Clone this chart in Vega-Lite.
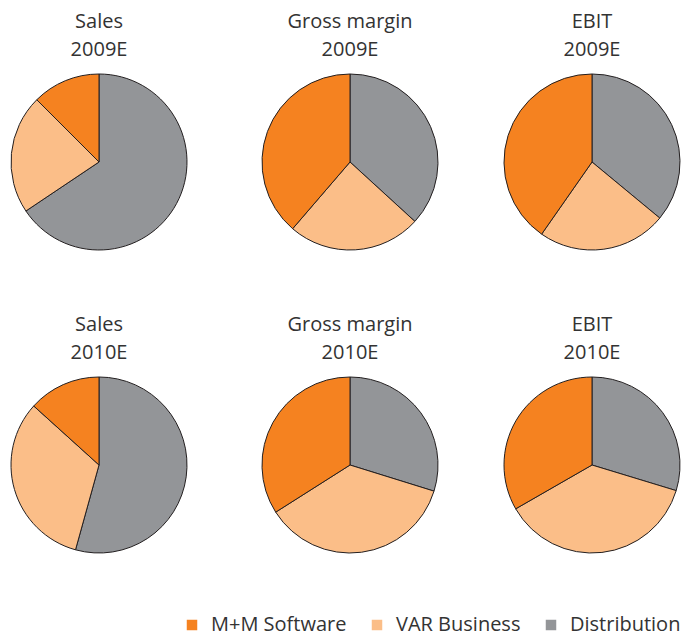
{
  "$schema": "https://vega.github.io/schema/vega-lite/v6.json",
  "padding": {"top": 12, "left": 0, "right": 0, "bottom": 0},
  "background": "white",
  "data": {"values": [
    {"chart": "Sales 2009E", "segment": "Distribution", "k": 1, "value": 65.6},
    {"chart": "Sales 2009E", "segment": "VAR Business", "k": 2, "value": 21.9},
    {"chart": "Sales 2009E", "segment": "M+M Software", "k": 3, "value": 12.5},
    {"chart": "Gross margin 2009E", "segment": "Distribution", "k": 1, "value": 36.8},
    {"chart": "Gross margin 2009E", "segment": "VAR Business", "k": 2, "value": 24.5},
    {"chart": "Gross margin 2009E", "segment": "M+M Software", "k": 3, "value": 38.7},
    {"chart": "EBIT 2009E", "segment": "Distribution", "k": 1, "value": 36.0},
    {"chart": "EBIT 2009E", "segment": "VAR Business", "k": 2, "value": 23.7},
    {"chart": "EBIT 2009E", "segment": "M+M Software", "k": 3, "value": 40.3},
    {"chart": "Sales 2010E", "segment": "Distribution", "k": 1, "value": 54.3},
    {"chart": "Sales 2010E", "segment": "VAR Business", "k": 2, "value": 32.4},
    {"chart": "Sales 2010E", "segment": "M+M Software", "k": 3, "value": 13.3},
    {"chart": "Gross margin 2010E", "segment": "Distribution", "k": 1, "value": 29.8},
    {"chart": "Gross margin 2010E", "segment": "VAR Business", "k": 2, "value": 36.2},
    {"chart": "Gross margin 2010E", "segment": "M+M Software", "k": 3, "value": 34.0},
    {"chart": "EBIT 2010E", "segment": "Distribution", "k": 1, "value": 29.7},
    {"chart": "EBIT 2010E", "segment": "VAR Business", "k": 2, "value": 37.0},
    {"chart": "EBIT 2010E", "segment": "M+M Software", "k": 3, "value": 33.3}
  ]},
  "config": {
    "view": {"stroke": null},
    "font": "Open Sans",
    "concat": {"spacing": 0},
    "title": {"fontSize": 20, "fontWeight": "normal", "color": "#333333", "lineHeight": 28, "offset": 12, "anchor": "middle"},
    "arc": {"stroke": "#231f20", "strokeWidth": 1, "outerRadius": 88}
  },
  "spacing": 63,
  "resolve": {"scale": {"color": "shared"}},
  "vconcat": [
    {"hconcat": [
      {"width": 198, "height": 176, "title": {"text": ["Sales", "2009E"]},
       "transform": [{"filter": "datum.chart == 'Sales 2009E'"}],
       "mark": {"type": "arc"},
       "encoding": {"theta": {"field": "value", "type": "quantitative", "stack": true},
         "order": {"field": "k", "type": "quantitative"},
         "color": {"field": "segment", "type": "nominal",
           "scale": {"domain": ["M+M Software", "VAR Business", "Distribution"], "range": ["#F58220", "#FBBE88", "#939598"]},
           "legend": {"orient": "none", "legendX": 182, "legendY": 541, "direction": "horizontal", "title": null,
             "symbolType": "square", "symbolSize": 110, "symbolStrokeWidth": 0, "symbolStrokeColor": "transparent", "symbolOpacity": 1,
             "labelFontSize": 20, "labelColor": "#333333", "labelFont": "Open Sans", "labelOffset": 9, "columnPadding": 20, "labelLimit": 300,
             "encode": {"symbols": {"update": {"stroke": {"value": "transparent"}, "strokeWidth": {"value": 0}}}}}}}},
      {"width": 304, "height": 176, "title": {"text": ["Gross margin", "2009E"]},
       "transform": [{"filter": "datum.chart == 'Gross margin 2009E'"}],
       "mark": {"type": "arc"},
       "encoding": {"theta": {"field": "value", "type": "quantitative", "stack": true},
         "order": {"field": "k", "type": "quantitative"},
         "color": {"field": "segment", "type": "nominal"}}},
      {"width": 178, "height": 176, "title": {"text": ["EBIT", "2009E"]},
       "transform": [{"filter": "datum.chart == 'EBIT 2009E'"}],
       "mark": {"type": "arc"},
       "encoding": {"theta": {"field": "value", "type": "quantitative", "stack": true},
         "order": {"field": "k", "type": "quantitative"},
         "color": {"field": "segment", "type": "nominal"}}}
    ]},
    {"hconcat": [
      {"width": 198, "height": 176, "title": {"text": ["Sales", "2010E"]},
       "transform": [{"filter": "datum.chart == 'Sales 2010E'"}],
       "mark": {"type": "arc"},
       "encoding": {"theta": {"field": "value", "type": "quantitative", "stack": true},
         "order": {"field": "k", "type": "quantitative"},
         "color": {"field": "segment", "type": "nominal"}}},
      {"width": 304, "height": 176, "title": {"text": ["Gross margin", "2010E"]},
       "transform": [{"filter": "datum.chart == 'Gross margin 2010E'"}],
       "mark": {"type": "arc"},
       "encoding": {"theta": {"field": "value", "type": "quantitative", "stack": true},
         "order": {"field": "k", "type": "quantitative"},
         "color": {"field": "segment", "type": "nominal"}}},
      {"width": 178, "height": 176, "title": {"text": ["EBIT", "2010E"]},
       "transform": [{"filter": "datum.chart == 'EBIT 2010E'"}],
       "mark": {"type": "arc"},
       "encoding": {"theta": {"field": "value", "type": "quantitative", "stack": true},
         "order": {"field": "k", "type": "quantitative"},
         "color": {"field": "segment", "type": "nominal"}}}
    ]}
  ]
}
